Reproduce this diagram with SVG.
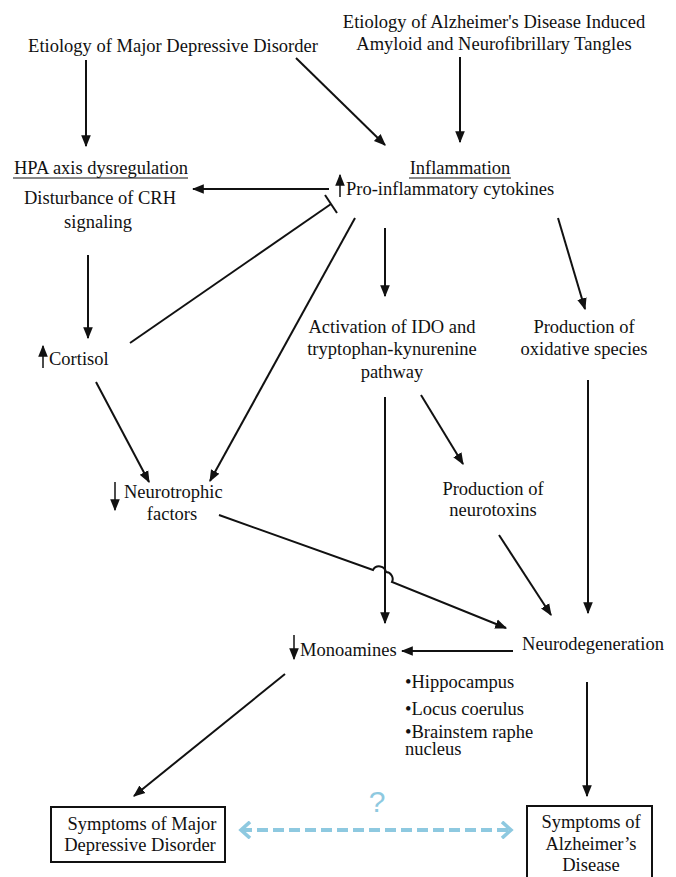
<svg xmlns="http://www.w3.org/2000/svg" width="676" height="877" viewBox="0 0 676 877">
<style>
text{font-family:'Liberation Serif',serif;font-size:18.5px;fill:#111;text-anchor:middle}
.l{text-anchor:start}
.c{stroke:#111;stroke-width:2;fill:none}
.t{stroke:#111;stroke-width:1.5;fill:none}
.box{fill:#fff;stroke:#111;stroke-width:2}
</style>
<defs>
<marker id="ah" viewBox="0 0 10 10" refX="9" refY="5" markerWidth="6" markerHeight="6" markerUnits="strokeWidth" orient="auto">
<path d="M0,1 L10,5 L0,9 Z" fill="#111"/>
</marker>
<marker id="ah2" viewBox="0 0 10 10" refX="9" refY="5" markerWidth="8" markerHeight="8" markerUnits="strokeWidth" orient="auto">
<path d="M0,1 L10,5 L0,9 Z" fill="#111"/>
</marker>
<marker id="bh" viewBox="0 0 10 10" refX="6" refY="5" markerWidth="4.5" markerHeight="4.5" markerUnits="strokeWidth" orient="auto-start-reverse">
<path d="M1,0.5 L6,5 L1,9.5" fill="none" stroke="#8ec9e0" stroke-width="2"/>
</marker>
</defs>
<g font-family="Liberation Serif, serif">
<g id="etiology-mdd"><text x="173" y="52">Etiology of Major Depressive Disorder</text></g>
<g id="etiology-ad"><text x="494" y="28">Etiology of Alzheimer's Disease Induced</text><text x="494" y="50">Amyloid and Neurofibrillary Tangles</text></g>
<g id="hpa"><text x="101" y="174">HPA axis dysregulation</text><line x1="13" y1="178" x2="188" y2="178" stroke="#111" stroke-width="1"/>
<text x="100" y="204">Disturbance of CRH</text><text x="98" y="228">signaling</text></g>
<g id="inflammation"><text x="460" y="174">Inflammation</text><line x1="409" y1="178" x2="511" y2="178" stroke="#111" stroke-width="1"/>
<line class="t" x1="340" y1="197" x2="340" y2="175" marker-end="url(#ah2)"/>
<text class="l" x="346" y="195">Pro-inflammatory cytokines</text></g>
<g id="cortisol"><line class="t" x1="43" y1="368" x2="43" y2="346" marker-end="url(#ah2)"/><text class="l" x="49" y="365">Cortisol</text></g>
<g id="ido"><text x="392" y="333">Activation of IDO and</text><text x="392" y="355">tryptophan-kynurenine</text><text x="392" y="378">pathway</text></g>
<g id="oxidative"><text x="584" y="333">Production of</text><text x="584" y="355">oxidative species</text></g>
<g id="neurotrophic"><line class="t" x1="115" y1="482" x2="115" y2="510" marker-end="url(#ah2)"/><text class="l" x="124" y="498">Neurotrophic</text><text x="172" y="520">factors</text></g>
<g id="neurotoxins"><text x="493" y="495">Production of</text><text x="493" y="516">neurotoxins</text></g>
<g id="neurodegeneration"><text x="593" y="650">Neurodegeneration</text></g>
<g id="monoamines"><line class="t" x1="294" y1="635" x2="294" y2="659" marker-end="url(#ah2)"/><text class="l" x="300" y="656">Monoamines</text></g>
<g id="regions"><text class="l" x="405" y="688">•Hippocampus</text><text class="l" x="405" y="715">•Locus coerulus</text><text class="l" x="405" y="738">•Brainstem raphe</text><text class="l" x="405" y="755">nucleus</text></g>
<g id="symptoms-mdd"><rect class="box" x="51" y="807" width="174" height="55"/><text x="142" y="830">Symptoms of Major</text><text x="140" y="851">Depressive Disorder</text></g>
<g id="symptoms-ad"><rect class="box" x="527" y="806" width="125" height="75"/><text x="591" y="828">Symptoms of</text><text x="591" y="850">Alzheimer’s</text><text x="591" y="871">Disease</text></g>
</g>
<g id="connectors">
<line class="c" x1="86" y1="60" x2="86" y2="146" marker-end="url(#ah)"/>
<line class="c" x1="296" y1="58" x2="385" y2="145" marker-end="url(#ah)"/>
<line class="c" x1="460" y1="57" x2="460" y2="142" marker-end="url(#ah)"/>
<line class="c" x1="329" y1="189" x2="193" y2="189" marker-end="url(#ah)"/>
<line class="c" x1="88" y1="255" x2="88" y2="338" marker-end="url(#ah)"/>
<line class="c" x1="130" y1="343" x2="331" y2="204"/>
<line class="c" x1="325" y1="195" x2="337" y2="213"/>
<line class="c" x1="355" y1="218" x2="210" y2="481" marker-end="url(#ah)"/>
<line class="c" x1="385" y1="228" x2="385" y2="296" marker-end="url(#ah)"/>
<line class="c" x1="558" y1="218" x2="585" y2="309" marker-end="url(#ah)"/>
<line class="c" x1="96" y1="382" x2="149" y2="482" marker-end="url(#ah)"/>
<line class="c" x1="385" y1="397" x2="385" y2="623" marker-end="url(#ah)"/>
<line class="c" x1="421" y1="395" x2="463" y2="464" marker-end="url(#ah)"/>
<line class="c" x1="588" y1="380" x2="588" y2="613" marker-end="url(#ah)"/>
<path class="c" d="M219,515 L373,570 A7,7 0 0 1 386,572 A7,7 0 0 1 392,582 L506,628" marker-end="url(#ah)"/>
<line class="c" x1="499" y1="535" x2="551" y2="615" marker-end="url(#ah)"/>
<line class="c" x1="513" y1="651" x2="402" y2="651" marker-end="url(#ah)"/>
<line class="c" x1="285" y1="674" x2="134" y2="796" marker-end="url(#ah)"/>
<line class="c" x1="587" y1="682" x2="587" y2="796" marker-end="url(#ah)"/>
<line x1="241" y1="830" x2="511" y2="830" stroke="#8ec9e0" stroke-width="4" stroke-dasharray="11,5" marker-start="url(#bh)" marker-end="url(#bh)"/>
<text x="377" y="812" style="fill:#8ec9e0;font-family:'Liberation Sans',sans-serif;font-size:30px">?</text>
</g>
</svg>
